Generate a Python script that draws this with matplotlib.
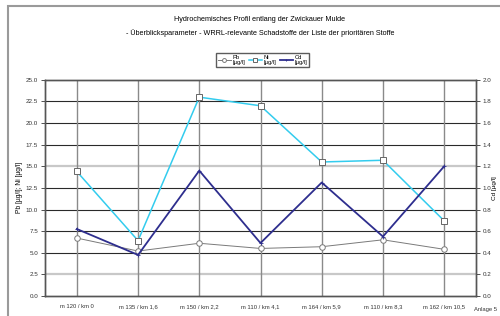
import matplotlib.pyplot as plt
from matplotlib.patches import Rectangle

plt.rcParams['font.family'] = ['Liberation Sans', 'DejaVu Sans']

stations = ["m 120 / km 0", "m 135 / km 1,6", "m 150 / km 2,2", "m 110 / km 4,1",
            "m 164 / km 5,9", "m 110 / km 8,3", "m 162 / km 10,5"]
pb = [6.7, 5.2, 6.1, 5.5, 5.7, 6.5, 5.4]
ni = [14.4, 6.4, 23.0, 22.0, 15.5, 15.7, 8.7]
cd = [0.62, 0.38, 1.16, 0.49, 1.05, 0.55, 1.20]
left_ticks = [0.0, 2.5, 5.0, 7.5, 10.0, 12.5, 15.0, 17.5, 20.0, 22.5, 25.0]
right_ticks = [0.0, 0.2, 0.4, 0.6, 0.8, 1.0, 1.2, 1.4, 1.6, 1.8, 2.0]

fig = plt.figure(figsize=(5, 3.16), dpi=100)
fig.patches.append(Rectangle((8/500, -0.1), 1.2, 1 - 6/316 + 0.1, transform=fig.transFigure,
                             fill=False, edgecolor='#9a9a9a', linewidth=1.5))

ax = fig.add_axes([0.09, 0.0633, 0.862, 0.684])
ax2 = ax.twinx()
x = range(len(stations))

for t in left_ticks[1:-1]:
    if t in (15.0, 2.5):
        ax.axhline(t, color='#c8c8c8', linewidth=1.6, zorder=0)
    else:
        ax.axhline(t, color='#2a2a2a', linewidth=0.8, zorder=0)
for i in x:
    ax.axvline(i, color='#8a8a8a', linewidth=1.0, zorder=0)

l1, = ax.plot(x, pb, color='#7a7a7a', linewidth=0.7, marker='o', markersize=4,
              markerfacecolor='white', markeredgecolor='#7a7a7a', markeredgewidth=0.7)
l2, = ax.plot(x, ni, color='#33ccee', linewidth=1.1, marker='s', markersize=5,
              markerfacecolor='white', markeredgecolor='#666666', markeredgewidth=0.7)
l3, = ax2.plot(x, cd, color='#2e2e8e', linewidth=1.3, marker='+', markersize=3,
               markeredgewidth=0.6)

ax.set_xlim(-0.52, 6.52)
ax.set_ylim(0, 25)
ax2.set_ylim(0, 2.0)
ax.set_yticks(left_ticks)
ax.set_yticklabels(["{:.1f}".format(t) for t in left_ticks])
ax2.set_yticks(right_ticks)
ax2.set_yticklabels(["{:.1f}".format(t) for t in right_ticks])
ax.set_xticks(list(x))
ax.set_xticklabels(stations)
ax.tick_params(axis='x', length=0, labelsize=4.2, colors='#333333', pad=6)
ax.tick_params(axis='y', length=3, width=0.6, labelsize=4.5, colors='#333333', pad=2)
ax2.tick_params(axis='y', length=3, width=0.6, labelsize=4.5, colors='#333333', pad=2)
for a in (ax, ax2):
    for s in a.spines.values():
        s.set_color('#555555')
        s.set_linewidth(1.0)
ax.set_ylabel("Pb [µg/l]; Ni [µg/l]", fontsize=4.8, labelpad=2)
ax2.set_ylabel("Cd [µg/l]", fontsize=4.6, labelpad=0.5)

fig.text(0.52, 0.937, "Hydrochemisches Profil entlang der Zwickauer Mulde",
         ha='center', va='center', fontsize=5.2)
fig.text(0.52, 0.896, "- Überblicksparameter - WRRL-relevante Schadstoffe der Liste der prioritären Stoffe",
         ha='center', va='center', fontsize=5.2)
fig.legend([l1, l2, l3], ["Pb\n[µg/l]", "Ni\n[µg/l]", "Cd\n[µg/l]"],
           loc='center', bbox_to_anchor=(0.525, 0.81), ncol=3, fontsize=4.2,
           frameon=True, fancybox=False, edgecolor='#333333', handlelength=2.2,
           handletextpad=0.3, columnspacing=0.6, borderpad=0.3, markerscale=0.7)
fig.text(0.995, 0.012, "Anlage 5", ha='right', va='bottom', fontsize=4.2, color='#333333')

fig.savefig("out.png", dpi=100)
